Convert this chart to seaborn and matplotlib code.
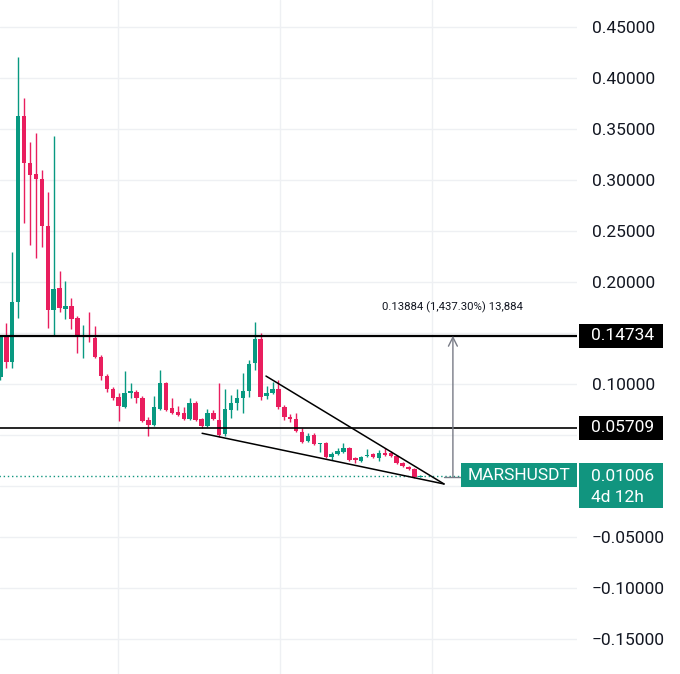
import numpy as np
import pandas as pd
import matplotlib.pyplot as plt
import matplotlib.transforms as mtransforms
from matplotlib.patches import Rectangle
import seaborn as sns

sns.set_style("white")
plt.rcParams['font.family'] = ['Roboto', 'DejaVu Sans']

# MARSHUSDT candles
opens = [0.1069, 0.1461, 0.1216, 0.1804, 0.3627, 0.3167, 0.3059, 0.3010, 0.2549, 0.1725,
         0.1941, 0.1735, 0.1765, 0.1647, 0.1461, 0.1480, 0.1451, 0.1265, 0.1078, 0.0951,
         0.0873, 0.0775, 0.0912, 0.0922, 0.0863, 0.0647, 0.0598, 0.0755, 0.1010, 0.0765,
         0.0725, 0.0716, 0.0657, 0.0814, 0.0657, 0.0588, 0.0716, 0.0647, 0.0510, 0.0745,
         0.0814, 0.0863, 0.0931, 0.1206, 0.1441, 0.0882, 0.0912, 0.0951, 0.0775, 0.0676,
         0.0657, 0.0529, 0.0441, 0.0500, 0.0412, 0.0422, 0.0284, 0.0314, 0.0333, 0.0373,
         0.0275, 0.0245, 0.0294, 0.0314, 0.0275, 0.0324, 0.0324, 0.0294, 0.0225, 0.0186,
         0.0167, 0.0090]
highs = [0.1480, 0.1598, 0.2294, 0.4206, 0.3804, 0.3373, 0.3461, 0.3098, 0.2882, 0.3431,
         0.2108, 0.2010, 0.1843, 0.1667, 0.1578, 0.1706, 0.1569, 0.1284, 0.1098, 0.0971,
         0.0912, 0.1127, 0.1010, 0.0941, 0.0882, 0.0676, 0.0882, 0.1137, 0.1020, 0.0863,
         0.0784, 0.0775, 0.0863, 0.0833, 0.0667, 0.0755, 0.0745, 0.1010, 0.0951, 0.0892,
         0.0951, 0.1108, 0.1235, 0.1608, 0.1500, 0.0980, 0.1020, 0.1039, 0.0794, 0.0706,
         0.0716, 0.0569, 0.0520, 0.0520, 0.0422, 0.0431, 0.0333, 0.0373, 0.0422, 0.0382,
         0.0284, 0.0294, 0.0363, 0.0324, 0.0353, 0.0373, 0.0343, 0.0304, 0.0235, 0.0196,
         0.0176, 0.0105]
lows = [0.1039, 0.1157, 0.1157, 0.1647, 0.2578, 0.2363, 0.2235, 0.2343, 0.1549, 0.1480,
        0.1706, 0.1637, 0.1539, 0.1304, 0.1255, 0.1412, 0.1255, 0.1039, 0.0922, 0.0843,
        0.0637, 0.0765, 0.0863, 0.0814, 0.0627, 0.0490, 0.0588, 0.0745, 0.0735, 0.0706,
        0.0686, 0.0647, 0.0647, 0.0637, 0.0569, 0.0578, 0.0647, 0.0480, 0.0490, 0.0667,
        0.0745, 0.0716, 0.0873, 0.1137, 0.0843, 0.0853, 0.0902, 0.0755, 0.0647, 0.0627,
        0.0529, 0.0422, 0.0431, 0.0402, 0.0333, 0.0275, 0.0255, 0.0304, 0.0324, 0.0245,
        0.0225, 0.0235, 0.0284, 0.0275, 0.0245, 0.0294, 0.0284, 0.0216, 0.0186, 0.0157,
        0.0078, 0.0085]
closes = [0.1461, 0.1216, 0.1804, 0.3627, 0.3167, 0.3049, 0.3010, 0.2549, 0.1725, 0.1931,
          0.1745, 0.1765, 0.1637, 0.1461, 0.1480, 0.1461, 0.1265, 0.1078, 0.0951, 0.0863,
          0.0784, 0.0912, 0.0931, 0.0863, 0.0637, 0.0598, 0.0775, 0.1010, 0.0745, 0.0716,
          0.0696, 0.0657, 0.0814, 0.0647, 0.0588, 0.0716, 0.0657, 0.0500, 0.0755, 0.0814,
          0.0863, 0.0931, 0.1196, 0.1441, 0.0873, 0.0912, 0.0951, 0.0775, 0.0676, 0.0657,
          0.0539, 0.0431, 0.0490, 0.0412, 0.0422, 0.0284, 0.0314, 0.0343, 0.0373, 0.0255,
          0.0255, 0.0284, 0.0304, 0.0284, 0.0324, 0.0304, 0.0294, 0.0225, 0.0196, 0.0167,
          0.0088, 0.01006]

resistance = 0.14734
support = 0.05709
last_price = 0.01006
measure_low = 0.00850
measure_text = "0.13884 (1,437.30%) 13,884"
symbol = "MARSHUSDT"
countdown = "4d 12h"

# falling wedge drawn on the chart (candle index, price)
wedge_top_x, wedge_top_y = [44.9, 75.0], [0.1078, 0.0020]
wedge_bot_x, wedge_bot_y = [34.1, 75.0], [0.0517, 0.0020]
measure_x = 76.5

y_ticks = [-0.15, -0.10, -0.05, 0.0, 0.05, 0.10, 0.15, 0.20, 0.25, 0.30, 0.35, 0.40, 0.45]
hidden_ticks = [0.0, 0.05, 0.15]   # covered by the price tags
time_grid = [19.9, 47.3, 73.0]

UP, DOWN = '#089981', '#E91E5E'
TEAL = '#11957F'

df = pd.DataFrame({'open': opens, 'high': highs, 'low': lows, 'close': closes})
df['i'] = np.arange(len(df))
df['color'] = np.where(df['close'] >= df['open'], UP, DOWN)
df['bottom'] = df[['open', 'close']].min(axis=1)
df['body'] = (df['close'] - df['open']).abs().clip(lower=0.0013)

fig = plt.figure(figsize=(6.8, 6.74), dpi=100)
ax = fig.add_axes([0, 0, 577 / 680, 1])

ax.vlines(df['i'], df['low'], df['high'], colors=df['color'], lw=1.0, zorder=3)
ax.bar(df['i'], df['body'], bottom=df['bottom'], width=0.75, color=df['color'],
       linewidth=0, zorder=3)

ax.axhline(resistance, color='black', lw=1.6, zorder=4)
ax.axhline(support, color='black', lw=1.2, zorder=4)
ax.plot([-1, 78], [last_price, last_price], color=TEAL, lw=1.0, ls=(0, (1, 2)), zorder=2)

ax.plot(wedge_top_x, wedge_top_y, color='black', lw=1.1, zorder=4)
ax.plot(wedge_bot_x, wedge_bot_y, color='black', lw=1.1, zorder=4)

# measuring tool
ax.plot([75.0, 78], [measure_low, measure_low], color='#787b86', lw=1.0, zorder=4)
ax.annotate('', xy=(measure_x, resistance), xytext=(measure_x, measure_low),
            arrowprops=dict(arrowstyle='->', color='#787b86', lw=1.0,
                            mutation_scale=16, shrinkA=0, shrinkB=0), zorder=4)
ax.text(measure_x, 0.1755, measure_text, ha='center', va='center', fontsize=8.2,
        color='#131722')

ax.set_xlim(-0.07, 97.48)
ax.set_ylim(-0.1843, 0.4765)
ax.set_yticks(y_ticks)
ax.set_yticklabels(['' if v in hidden_ticks else f"{v:.5f}".replace('-', '\u2212')
                    for v in y_ticks])
ax.set_xticks(time_grid)
ax.set_xticklabels([])
ax.yaxis.tick_right()
ax.tick_params(axis='y', length=0, pad=10.5, labelsize=12.5, labelcolor='#131722')
ax.tick_params(axis='x', length=0)
ax.grid(True, color='#eef0f3', lw=1.0, zorder=0)
ax.set_axisbelow(True)
for s in ax.spines.values():
    s.set_visible(False)

# price scale labels
blend = mtransforms.blended_transform_factory(fig.transFigure, ax.transData)
px = lambda p: p / 680
half = 12 / 1020


def tag(x0, x1, y0, y1, color):
    ax.add_artist(Rectangle((px(x0), y0), px(x1 - x0), y1 - y0, transform=blend,
                            facecolor=color, edgecolor='none', clip_on=False, zorder=6))


for lvl in (resistance, support):
    tag(579, 663, lvl - half, lvl + half, 'black')
    ax.text(px(591), lvl, f"{lvl:.5f}", transform=blend, color='white', fontsize=12.5,
            ha='left', va='center', zorder=7, clip_on=False)

tag(461, 577, -0.0010, 0.0225, TEAL)
ax.text(px(519), last_price, symbol, transform=blend, color='white', fontsize=12.5,
        ha='center', va='center', zorder=7, clip_on=False)
tag(579, 663, -0.0216, 0.0225, TEAL)
ax.text(px(591), 0.0093, f"{last_price:.5f}", transform=blend, color='white',
        fontsize=12.5, ha='left', va='center', zorder=7, clip_on=False)
ax.text(px(591), -0.0108, countdown, transform=blend, color='white',
        fontsize=12.5, ha='left', va='center', zorder=7, clip_on=False)

fig.savefig('out.png', dpi=100)
